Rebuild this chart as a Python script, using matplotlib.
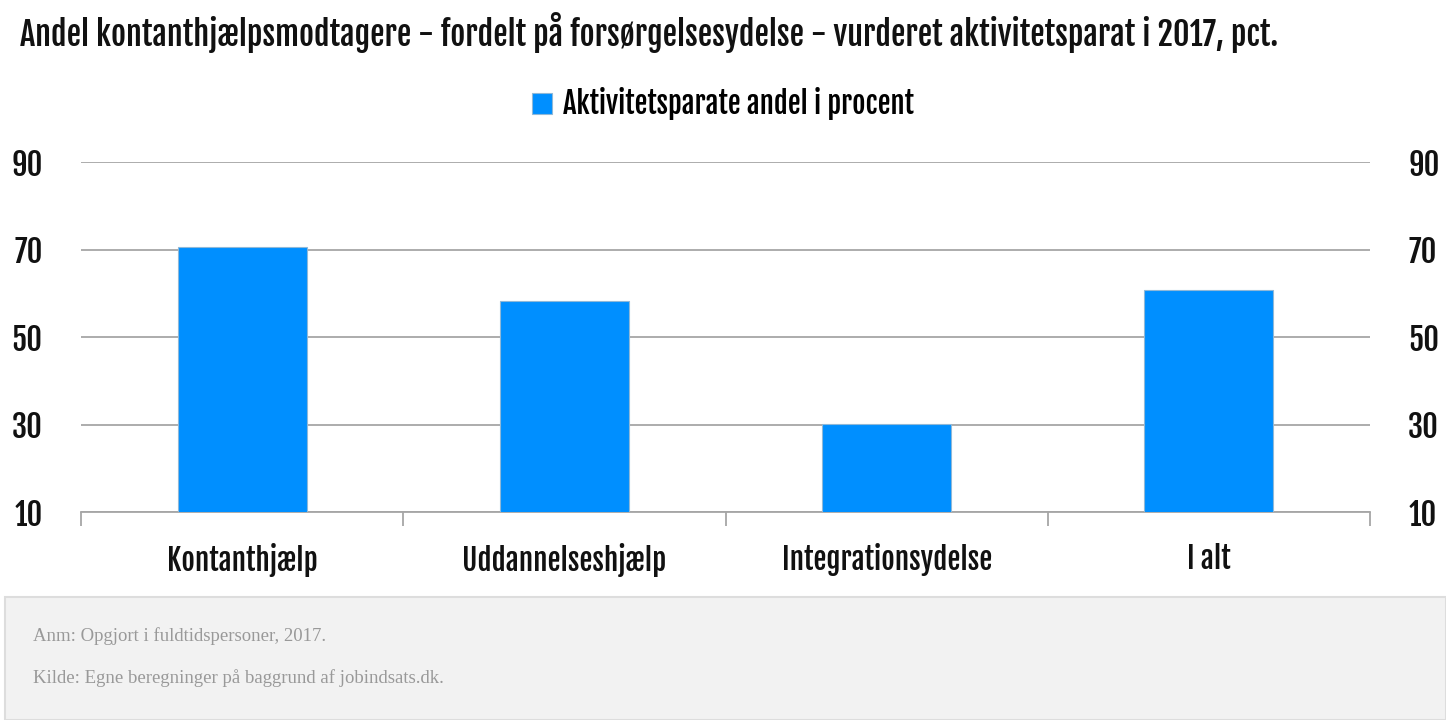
import matplotlib
matplotlib.use("Agg")
import matplotlib.pyplot as plt
from matplotlib.patches import Rectangle

categories = ["Kontanthjælp", "Uddannelseshjælp", "Integrationsydelse", "I alt"]
values = [70.5, 58.2, 30.1, 60.7]
yticks = [10, 30, 50, 70, 90]
series_name = "Aktivitetsparate andel i procent"
title = "Andel kontanthjælpsmodtagere - fordelt på forsørgelsesydelse - vurderet aktivitetsparat i 2017, pct."
notes = ["Anm: Opgjort i fuldtidspersoner, 2017.",
         "Kilde: Egne beregninger på baggrund af jobindsats.dk."]

cond = ["Fjalla One", "DejaVu Sans"]
serif = ["Liberation Serif", "DejaVu Serif"]

W, H = 1446, 720
fig = plt.figure(figsize=(W / 100, H / 100), dpi=100)
ax = fig.add_axes([81 / W, 1 - 512 / H, (1370 - 81) / W, (512 - 162) / H])

grey = "#a6a6a6"
x = list(range(len(categories)))
ax.bar(x, values, width=0.4, color="#008fff", edgecolor="#8fb8d8", linewidth=0.8,
       label=series_name, zorder=3)

ax.set_xlim(-0.5, len(categories) - 0.5)
ax.set_ylim(yticks[0], yticks[-1])
ax.set_yticks(yticks)
ax.yaxis.grid(True, color=grey, linewidth=1.3, zorder=0)
for s in ["top", "left", "right"]:
    ax.spines[s].set_visible(False)
ax.spines["bottom"].set_color(grey)
ax.spines["bottom"].set_linewidth(1.3)

ax.tick_params(axis="y", left=False, right=False, labelleft=True, labelright=True,
               pad=24, labelsize=22, labelcolor="#111111")
for tick in ax.yaxis.get_major_ticks():
    for lab in (tick.label1, tick.label2):
        lab.set_fontfamily(cond)

ax.set_xticks(x)
ax.set_xticklabels(categories, fontfamily=cond, fontsize=21, color="#111111")
ax.set_xticks([i - 0.5 for i in range(len(categories) + 1)], minor=True)
ax.tick_params(axis="x", which="major", length=0, pad=22)
ax.tick_params(axis="x", which="minor", length=10, color=grey, width=1.3)

fig.text(20 / W, 1 - 33 / H, title, fontfamily=cond, fontsize=23.3,
         va="center", ha="left", color="#111111")

ax.legend(loc="center", bbox_to_anchor=(0.5, 1 - 103 / H), bbox_transform=fig.transFigure,
          frameon=False, handlelength=0.7, handleheight=0.7, handletextpad=0.4,
          prop={"family": cond, "size": 20.7})

fig.patches.append(Rectangle((5 / W, 0), (W - 5) / W, (H - 597) / H, transform=fig.transFigure,
                             facecolor="#f2f2f2", edgecolor="#dddddd", linewidth=1.5))
fig.text(33 / W, 1 - 636 / H, notes[0], fontfamily=serif, fontsize=13.5, color="#999999",
         va="center", ha="left")
fig.text(33 / W, 1 - 678 / H, notes[1], fontfamily=serif, fontsize=13.5, color="#999999",
         va="center", ha="left")

fig.savefig("out.png", dpi=100)
